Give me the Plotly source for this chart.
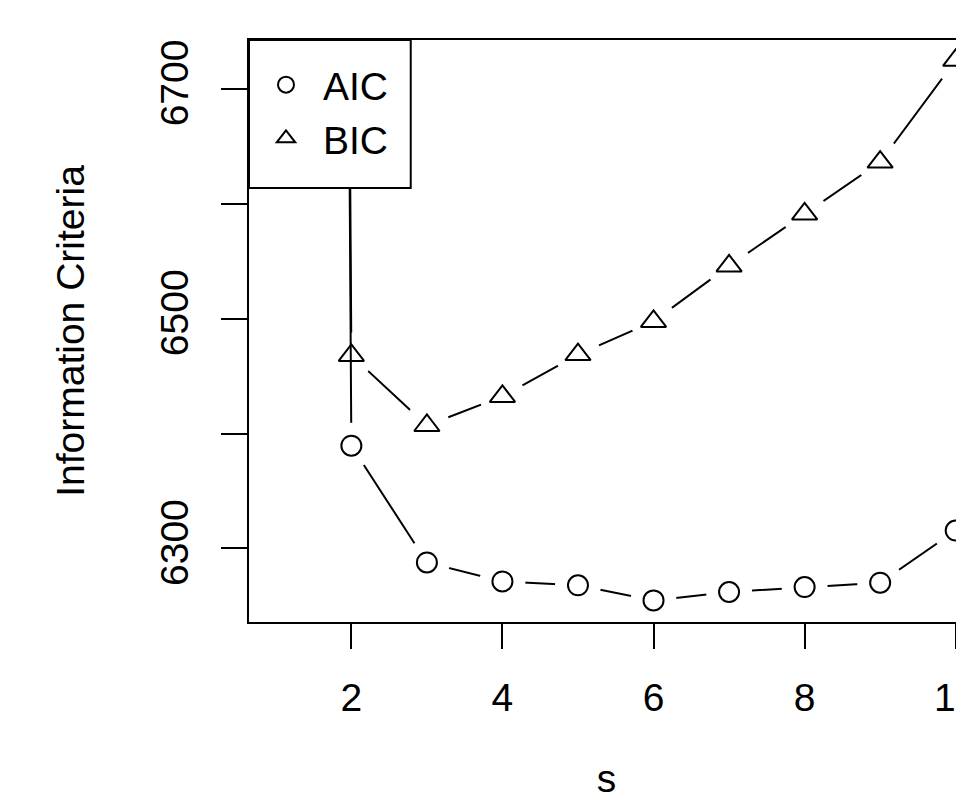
import plotly.graph_objects as go

# ---- data ----
s = [1, 2, 3, 4, 5, 6, 7, 8, 9, 10]
aic = [16500.0, 6389.4, 6287.8, 6271.3, 6267.9, 6254.8, 6262.1, 6266.4, 6270.2, 6315.6]
bic = [16520.0, 6468.0, 6407.0, 6432.3, 6468.7, 6497.6, 6545.9, 6591.1, 6636.3, 6724.8]
x_tickvals = [2, 4, 6, 8, 10]
y_tickvals = [6300, 6400, 6500, 6600, 6700]
y_ticktext = ["6300", "", "6500", "", "6700"]

FONT = "Liberation Sans, Arial, Helvetica, sans-serif"
FS = 39

fig = go.Figure()

def add_series(y, symbol, msize, name, rank):
    # connecting line
    fig.add_trace(go.Scatter(x=s, y=y, mode="lines", line=dict(color="black", width=2),
                             showlegend=False, hoverinfo="skip"))
    # white gap around each point (R type="b" look)
    fig.add_trace(go.Scatter(x=s, y=y, mode="markers",
                             marker=dict(symbol="circle", size=46, color="white", line=dict(width=0)),
                             showlegend=False, hoverinfo="skip"))
    # the points themselves
    fig.add_trace(go.Scatter(x=s, y=y, mode="markers", name=name, legendrank=rank,
                             marker=dict(symbol=symbol, size=msize, color="white",
                                         line=dict(color="black", width=2))))

add_series(bic, "triangle-up", 22, "BIC", 2)
add_series(aic, "circle", 20, "AIC", 1)

# legend frame (white box over the plot, as in R's legend())
fig.add_shape(type="rect", xref="paper", yref="paper", x0=0, x1=0.2262, y0=0.7457, y1=1.0,
              fillcolor="white", line=dict(color="black", width=2), layer="above")

fig.update_layout(
    width=956, height=792,
    margin=dict(l=241, r=0, t=32, b=178),
    paper_bgcolor="white", plot_bgcolor="white",
    font=dict(family=FONT, size=FS, color="black"),
    showlegend=True,
    legend=dict(x=0, y=0.978, xanchor="left", yanchor="top", xref="paper", yref="paper",
                bgcolor="rgba(0,0,0,0)", borderwidth=0,
                font=dict(family=FONT, size=FS, color="black"),
                itemwidth=64, tracegroupgap=0),
)

fig.update_xaxes(
    range=[0.645, 10.11], showgrid=False, zeroline=False,
    showline=True, linecolor="black", linewidth=2, mirror=True,
    ticks="outside", ticklen=25, tickwidth=2, tickcolor="black",
    tickvals=x_tickvals, tickfont=dict(family=FONT, size=FS),
    ticklabelstandoff=15, ticklabeloverflow="allow", automargin=False,
    title=dict(text="s", font=dict(family=FONT, size=FS), standoff=147),
)
fig.update_yaxes(
    range=[6236, 6742.5], showgrid=False, zeroline=False,
    showline=True, linecolor="black", linewidth=2, mirror=False,
    ticks="outside", ticklen=26, tickwidth=2, tickcolor="black",
    tickvals=y_tickvals, ticktext=y_ticktext, tickangle=-90,
    tickfont=dict(family=FONT, size=FS),
    ticklabelstandoff=17, ticklabeloverflow="allow", automargin=False,
    title=dict(text="Information Criteria", font=dict(family=FONT, size=FS), standoff=57),
)

fig.write_html("out.html")
